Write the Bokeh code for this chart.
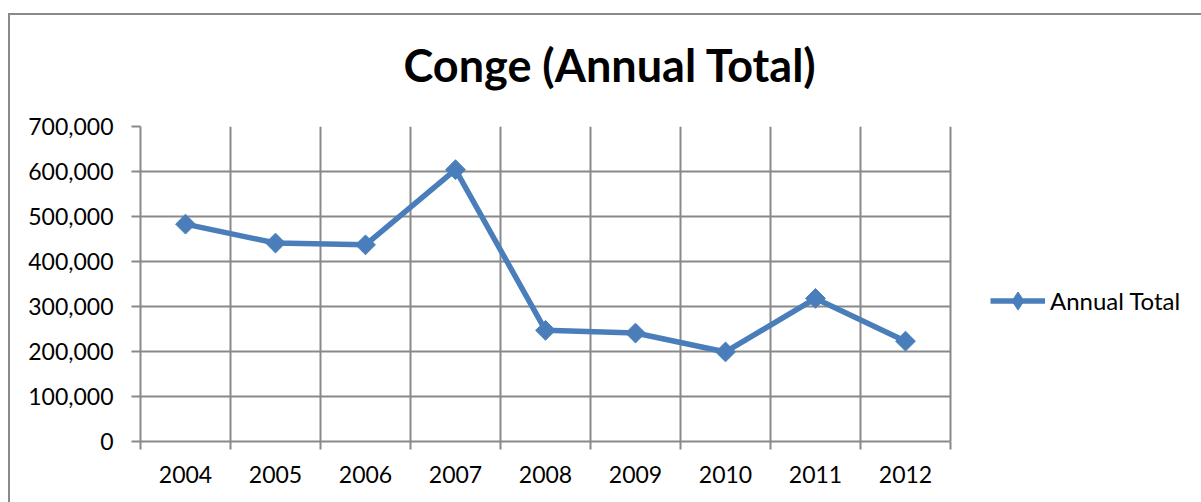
import numpy as np
from bokeh.plotting import figure
from bokeh.models import (Range1d, FixedTicker, NumeralTickFormatter, Legend, BoxAnnotation,
                          LegendItem, InlineStyleSheet, ColumnDataSource)
from bokeh.embed import file_html
from bokeh.resources import INLINE

# ---- data ----
years = ["2004", "2005", "2006", "2007", "2008", "2009", "2010", "2011", "2012"]
annual_total = [483000, 441000, 437000, 604000, 247000, 241000, 199000, 318000, 223000]
y_ticks = [0, 100000, 200000, 300000, 400000, 500000, 600000, 700000]
series_name = "Annual Total"
chart_title = "Conge (Annual Total)"

FONT = "Lato"
BLUE = "#4A7EBB"
GRID = "#898989"

n = len(years)
centers = [i + 0.5 for i in range(n)]
bounds = list(range(n + 1))

W, H = 1201, 502
LEFT, TOP, BOTTOM = 140, 126, H - 441
PLOT_W = 810                      # width of the gridded plot area in px
frame_w = W - LEFT                # frame runs to the right edge (room for legend)
x_end = n * frame_w / PLOT_W

p = figure(width=W, height=H, x_range=Range1d(0, x_end), y_range=Range1d(0, y_ticks[-1]),
           output_backend="svg", toolbar_location=None,
           min_border_left=LEFT, min_border_right=0,
           min_border_top=TOP, min_border_bottom=BOTTOM)
# outer chart border (top and left edges) painted behind the transparent canvas border
p.stylesheets = [InlineStyleSheet(css="""
:host {
  background-image: linear-gradient(#898989, #898989), linear-gradient(#898989, #898989);
  background-position: 8px 13px, 8px 13px;
  background-size: 100% 2px, 2px 100%;
  background-repeat: no-repeat;
}
""")]
p.outline_line_color = None
p.background_fill_color = "white"
p.border_fill_color = None

# title
p.title.text = chart_title
p.title.align = "left"
p.title.offset = 263
p.title.text_font = FONT
p.title.text_font_style = "bold"
p.title.text_font_size = "45px"
p.title.text_color = "black"
p.title.standoff = 70

# grids
p.xgrid.ticker = FixedTicker(ticks=bounds)
p.ygrid.ticker = FixedTicker(ticks=y_ticks)
for g in (p.xgrid[0], p.ygrid[0]):
    g.grid_line_color = GRID
    g.grid_line_width = 2
yg = p.ygrid[0]
if "cross_bounds" in yg.properties():
    yg.cross_bounds = (0, n)
else:
    p.add_layout(BoxAnnotation(left=n + 1.5 / 90, fill_color="white", fill_alpha=1,
                               line_color=None, level="underlay"))

# x axis
xa = p.xaxis[0]
xa.bounds = (0, n)
xa.ticker = FixedTicker(ticks=centers, minor_ticks=bounds)
xa.major_label_overrides = {c: yr for c, yr in zip(centers, years)}
xa.major_tick_out = 0
xa.major_tick_in = 0
xa.minor_tick_out = 8
xa.minor_tick_in = 0
xa.minor_tick_line_color = GRID
xa.minor_tick_line_width = 2
xa.axis_line_color = GRID
xa.axis_line_width = 2
xa.major_label_standoff = 16
xa.major_label_text_font = FONT
xa.major_label_text_font_size = "23px"
xa.major_label_text_color = "black"

# y axis
ya = p.yaxis[0]
ya.ticker = FixedTicker(ticks=y_ticks)
ya.formatter = NumeralTickFormatter(format="0,0")
ya.major_tick_out = 9
ya.major_tick_in = 0
ya.minor_tick_out = 0
ya.minor_tick_in = 0
ya.major_tick_line_color = GRID
ya.major_tick_line_width = 2
ya.axis_line_color = GRID
ya.axis_line_width = 2
ya.major_label_standoff = 18
ya.major_label_text_font = FONT
ya.major_label_text_font_size = "23px"
ya.major_label_text_color = "black"

# series
src = ColumnDataSource(dict(x=centers, y=annual_total, year=years))
ln = p.line("x", "y", source=src, line_color=BLUE, line_width=5.5, line_join="round")
pts = p.scatter("x", "y", source=src, marker="square", size=14, angle=np.pi / 4,
                fill_color=BLUE, line_color=BLUE)
# legend swatch marker: a diamond renderer that is hidden on the plot itself
swatch = p.scatter("x", "y", source=src, marker="diamond", fill_color=BLUE, line_color=BLUE,
                   visible=False)

legend = Legend(items=[LegendItem(label=series_name, renderers=[ln, swatch])],
                location=(850, 118), glyph_width=55, glyph_height=45,
                label_standoff=5, padding=0, margin=0, spacing=0,
                border_line_color=None, background_fill_alpha=0,
                inactive_fill_alpha=0,
                label_text_font=FONT, label_text_font_size="24px",
                label_text_color="black")
p.add_layout(legend)

open("out.html", "w").write(file_html(p, INLINE))
